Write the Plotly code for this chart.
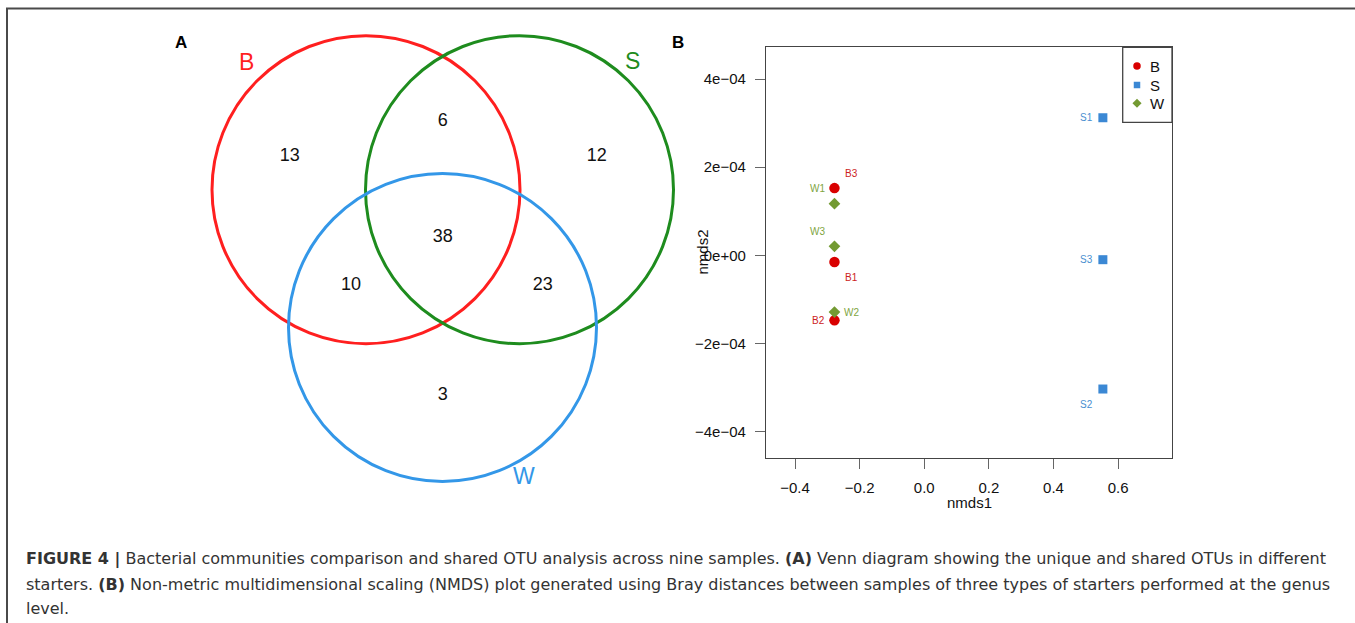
import plotly.graph_objects as go

# ---------------- data ----------------
venn_sets = ["B", "S", "W"]
venn_regions = ["B only", "B&S", "S only", "B&S&W", "B&W", "S&W", "W only"]
venn_counts = [13, 6, 12, 38, 10, 23, 3]

sample_names = ["B1", "B2", "B3", "S1", "S2", "S3", "W1", "W2", "W3"]
sample_groups = ["B", "B", "B", "S", "S", "S", "W", "W", "W"]
nmds1 = [-0.278, -0.278, -0.278, 0.553, 0.553, 0.553, -0.278, -0.278, -0.278]
nmds2 = [-0.152e-4, -1.474e-4, 1.526e-4, 3.122e-4, -3.032e-4, -0.098e-4,
         1.172e-4, -1.286e-4, 0.204e-4]

x_tickvals = [-0.4, -0.2, 0.0, 0.2, 0.4, 0.6]
x_ticktext = ["\u22120.4", "\u22120.2", "0.0", "0.2", "0.4", "0.6"]
y_tickvals = [4e-4, 2e-4, 0.0, -2e-4, -4e-4]
y_ticktext = ["4e\u221204", "2e\u221204", "0e+00", "\u22122e\u221204", "\u22124e\u221204"]

caption_lines = [
    "<b>FIGURE 4 |</b> Bacterial communities comparison and shared OTU analysis across nine samples. "
    "<b>(A)</b> Venn diagram showing the unique and shared OTUs in different",
    "starters. <b>(B)</b> Non-metric multidimensional scaling (NMDS) plot generated using Bray distances "
    "between samples of three types of starters performed at the genus",
    "level.",
]

# ---------------- layout / style ----------------
W, H = 1355, 623
FONT = "Liberation Sans, Arial, Helvetica, sans-serif"
CAP_FONT = "DejaVu Sans, sans-serif"

venn_circle_color = {"B": "#FF1F1F", "S": "#1E8C1E", "W": "#3397E8"}
venn_circle_geom = {"B": (366, 189.7, 154), "S": (519.5, 189.7, 154), "W": (442.5, 327.5, 154)}
venn_setlabel_pos = {"B": (246, 62), "S": (632, 60.5), "W": (523.5, 476)}
venn_region_pos = {
    "B only": (289.7, 156), "B&S": (442.7, 121.7), "S only": (596.7, 156),
    "B&S&W": (442.7, 237.7), "B&W": (351, 285.7), "S&W": (542.7, 285.7),
    "W only": (442.7, 395),
}

grp_color = {"B": "#D90000", "S": "#3B88D4", "W": "#739A32"}
grp_label_color = {"B": "#CC2222", "S": "#4A8FD0", "W": "#7FA53F"}
grp_symbol = {"B": "circle", "S": "square", "W": "diamond"}
grp_size = {"B": 10.5, "S": 9, "W": 9}
label_offset = {
    "B1": (17, -15), "B2": (-16, 0), "B3": (17, 15),
    "S1": (-16, 0), "S2": (-16, -15), "S3": (-16, 0),
    "W1": (-17, 15), "W2": (17, 0), "W3": (-17, 15),
}

# NMDS plot box in pixels
PL, PR, PT, PB = 766, 1172, 47.3, 457.7

fig = go.Figure()

# ---------------- Venn (panel A), on a full-page pixel axis ----------------
shapes = []
for s in venn_sets:
    cx, cy, r = venn_circle_geom[s]
    shapes.append(dict(type="circle", xref="x", yref="y", x0=cx - r, x1=cx + r,
                       y0=cy - r, y1=cy + r, line=dict(color=venn_circle_color[s], width=3)))

fig.add_trace(go.Scatter(
    x=[venn_region_pos[k][0] for k in venn_regions],
    y=[venn_region_pos[k][1] for k in venn_regions],
    text=[str(c) for c in venn_counts], mode="text",
    textfont=dict(family=FONT, size=18, color="#111111"),
    xaxis="x", yaxis="y", showlegend=False, hoverinfo="skip"))

annotations = []
for s in venn_sets:
    x, y = venn_setlabel_pos[s]
    annotations.append(dict(x=x, y=y, xref="x", yref="y", text=s, showarrow=False,
                            font=dict(family=FONT, size=23, color=venn_circle_color[s])))

# panel letters
for txt, x in (("A", 181), ("B", 678)):
    annotations.append(dict(x=x, y=42, xref="x", yref="y", text="<b>%s</b>" % txt,
                            showarrow=False, font=dict(family=FONT, size=17, color="#000")))

# ---------------- NMDS (panel B) ----------------
for g in ["B", "S", "W"]:
    idx = [i for i, gg in enumerate(sample_groups) if gg == g]
    fig.add_trace(go.Scatter(
        x=[nmds1[i] for i in idx], y=[nmds2[i] for i in idx], mode="markers",
        marker=dict(symbol=grp_symbol[g], size=grp_size[g], color=grp_color[g],
                    line=dict(width=0)),
        name=g, xaxis="x2", yaxis="y2", showlegend=False, cliponaxis=False))

for i, nm in enumerate(sample_names):
    dx, dy = label_offset[nm]
    annotations.append(dict(x=nmds1[i], y=nmds2[i], xref="x2", yref="y2", text=nm,
                            showarrow=False, xshift=dx, yshift=dy,
                            font=dict(family=FONT, size=10, color=grp_label_color[sample_groups[i]])))

# axis titles
annotations.append(dict(x=(PL + PR) / 2, y=502, xref="x", yref="y", text="nmds1", showarrow=False,
                        font=dict(family=FONT, size=15, color="#111")))
annotations.append(dict(x=702, y=(PT + PB) / 2, xref="x", yref="y", text="nmds2", showarrow=False,
                        textangle=-90, font=dict(family=FONT, size=15, color="#111")))

# manual legend
shapes.append(dict(type="rect", xref="x", yref="y", x0=1122.7, x1=PR, y0=PT, y1=122.3,
                   line=dict(color="#444", width=1.3), fillcolor="white", layer="below"))
leg_y = {"B": 66, "S": 85, "W": 103.3}
leg_size = {"B": 7.5, "S": 6.5, "W": 7}
for g in ["B", "S", "W"]:
    fig.add_trace(go.Scatter(x=[1137], y=[leg_y[g]], mode="markers",
                             marker=dict(symbol=grp_symbol[g], size=leg_size[g], color=grp_color[g]),
                             xaxis="x", yaxis="y", showlegend=False, hoverinfo="skip"))
    annotations.append(dict(x=1148, y=leg_y[g], xref="x", yref="y", text=g, showarrow=False,
                            xanchor="left", font=dict(family=FONT, size=15, color="#111")))

# frame lines
shapes.append(dict(type="line", xref="x", yref="y", x0=6, x1=W, y0=8.5, y1=8.5,
                   line=dict(color="#4a4a4a", width=2)))
shapes.append(dict(type="line", xref="x", yref="y", x0=7, x1=7, y0=8, y1=H,
                   line=dict(color="#4a4a4a", width=2)))

# caption
for k, (line, yc) in enumerate(zip(caption_lines, [558.5, 584, 608])):
    annotations.append(dict(x=24, y=yc, xref="x", yref="y", text=line, showarrow=False,
                            xanchor="left", yanchor="middle",
                            font=dict(family=CAP_FONT, size=16, color="#333")))

axis_common = dict(showgrid=False, zeroline=False, ticks="outside", ticklen=10, tickwidth=1.3,
                   tickcolor="#666", showline=True, mirror=True, linecolor="#444", linewidth=1.3,
                   tickfont=dict(family=FONT, size=15, color="#111"))

fig.update_layout(
    width=W, height=H, margin=dict(l=0, r=0, t=0, b=0),
    paper_bgcolor="white", plot_bgcolor="rgba(0,0,0,0)",
    xaxis=dict(domain=[0, 1], range=[0, W], visible=False, fixedrange=True),
    yaxis=dict(domain=[0, 1], range=[H, 0], visible=False, fixedrange=True),
    xaxis2=dict(domain=[PL / W, PR / W], range=[-0.49, 0.767], anchor="y2",
                tickvals=x_tickvals, ticktext=x_ticktext, ticklabelstandoff=6, **axis_common),
    yaxis2=dict(domain=[1 - PB / H, 1 - PT / H], range=[-4.59e-4, 4.72e-4], anchor="x2",
                tickvals=y_tickvals, ticktext=y_ticktext, ticklabelstandoff=6, **axis_common),
    shapes=shapes, annotations=annotations,
)

fig.write_html("out.html", config={"displayModeBar": False},
               post_script="document.body.style.margin='0';document.body.style.overflow='hidden';")
